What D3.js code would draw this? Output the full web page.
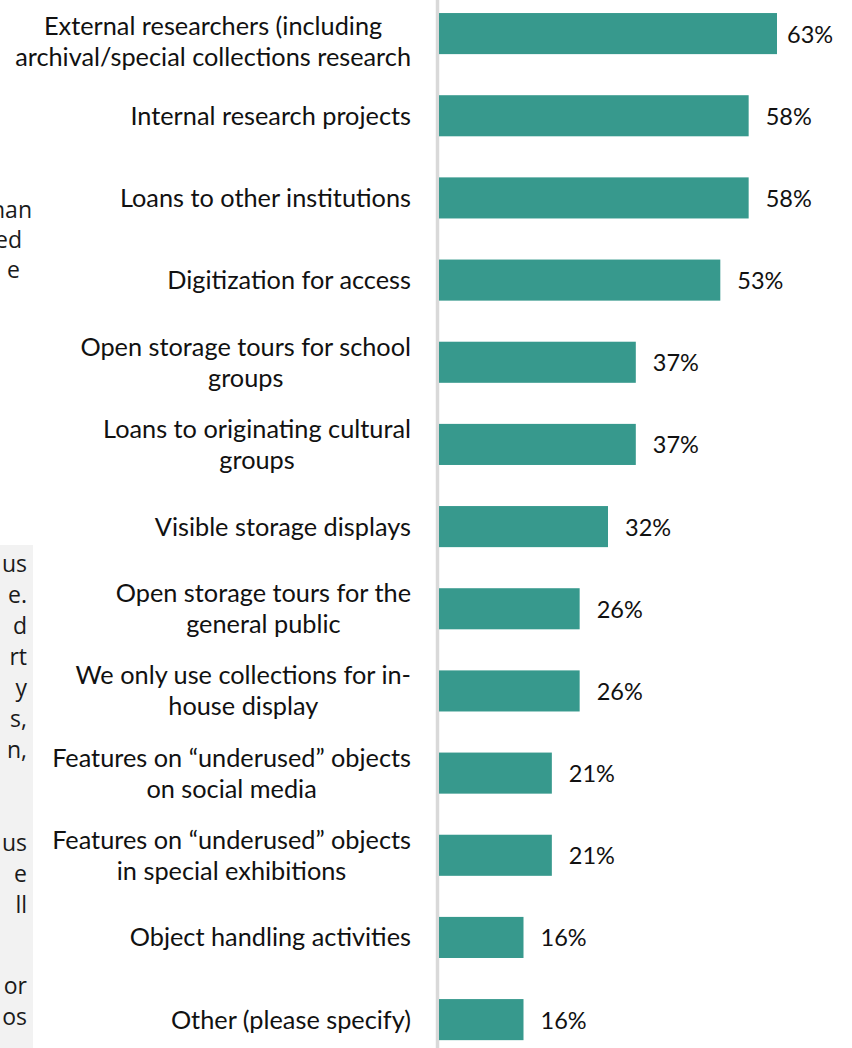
<!DOCTYPE html>
<html>
<head>
<meta charset="utf-8">
<script src="https://cdn.jsdelivr.net/npm/d3@7"></script>
<style>
  body { margin: 0; background: #fff; }
  svg { display: block; }
</style>
</head>
<body>
<svg id="chart"></svg>
<script>
  const width = 852,
        height = 1048;

  // categories (line breaks as in the picture)
  const categories = [
    ["External researchers (including", "archival/special collections research"],
    ["Internal research projects"],
    ["Loans to other institutions"],
    ["Digitization for access"],
    ["Open storage tours for school", "groups"],
    ["Loans to originating cultural", "groups"],
    ["Visible storage displays"],
    ["Open storage tours for the", "general public"],
    ["We only use collections for in-", "house display"],
    ["Features on \u201cunderused\u201d objects", "on social media"],
    ["Features on \u201cunderused\u201d objects", "in special exhibitions"],
    ["Object handling activities"],
    ["Other (please specify)"]
  ];

  // share of respondents, %
  const values = [63.2, 57.9, 57.9, 52.6, 36.8, 36.8, 31.6, 26.3, 26.3, 21.1, 21.1, 15.8, 15.8];

  // clipped text from the neighbouring page column
  const sideText = ["han", "ed", "e"];
  const boxParagraphs = [
    ["us", "e.", "d", "rt", "y", "s,", "n,", "", ""],
    ["us", "e", "ll", ""],
    ["or", "os"]
  ];

  const keys = categories.map((d, i) => i);

  let svg = d3.select("#chart")
              .attr("width", width)
              .attr("height", height);

  svg.append("rect")
     .attr("width", width)
     .attr("height", height)
     .attr("fill", "#fff");

  // grey side box of the next column
  svg.append("rect")
     .attr("x", 0)
     .attr("y", 545)
     .attr("width", 33)
     .attr("height", height - 545)
     .attr("fill", "#f2f2f2");

  svg.append("g")
     .selectAll("text")
     .data(sideText)
     .join("text")
     .attr("x", (d, i) => [32, 22, 20][i])
     .attr("y", (d, i) => 218 + i * 30)
     .attr("text-anchor", "end")
     .attr("font-family", "Open Sans")
     .attr("font-size", 23)
     .attr("fill", "#1a1a1a")
     .text(d => d);

  // lines of the box, paragraphs after the first start 19px lower
  let boxLines = [];
  let by = 572;
  boxParagraphs.forEach((p, k) => {
    if (k > 1) by += 19;
    p.forEach(s => { boxLines.push({s: s, y: by}); by += 31; });
  });

  svg.append("g")
     .selectAll("text")
     .data(boxLines)
     .join("text")
     .attr("x", 27)
     .attr("y", d => d.y)
     .attr("text-anchor", "end")
     .attr("font-family", "Open Sans")
     .attr("font-size", 23)
     .attr("fill", "#1a1a1a")
     .text(d => d.s);

  let x = d3.scaleLinear()
            .domain([0, 63.2])
            .range([439, 777]);

  let y = d3.scaleBand()
            .domain(keys)
            .range([-7.5, 1060.7])
            .paddingInner(0.5)
            .paddingOuter(0.25);

  // vertical axis line, no ticks
  svg.append("g")
     .attr("transform", "translate(437,0)")
     .call(d3.axisLeft(y).tickSize(0).tickFormat(""))
     .call(g => g.select(".domain")
                 .attr("stroke", "#d9d9d9")
                 .attr("stroke-width", 3.5));

  // Bars
  svg.append("g")
     .selectAll("rect")
     .data(values)
     .join("rect")
     .attr("x", x(0))
     .attr("y", (d, i) => y(i))
     .attr("width", d => x(d) - x(0))
     .attr("height", y.bandwidth())
     .attr("fill", "#37998d");

  // Value labels
  svg.append("g")
     .selectAll("text")
     .data(values)
     .join("text")
     .attr("x", d => Math.min(x(d) + 17, 787))
     .attr("y", (d, i) => y(i) + y.bandwidth() / 2 + 9)
     .attr("font-family", "Lato")
     .attr("font-size", 23.5)
     .attr("fill", "#111")
     .text(d => d3.format(".0f")(d) + "%");

  // Category labels: centred block, right edge at the axis
  const lineH = 31,
        labelRight = 411;

  let labels = svg.append("g")
                  .attr("font-family", "Lato")
                  .attr("font-size", 25.3)
                  .attr("fill", "#111");

  categories.forEach((lines, i) => {
    let t = labels.append("text").attr("text-anchor", "middle");
    let cy = y(i) + y.bandwidth() / 2 + 9;
    let first = Math.max(cy - (lines.length - 1) / 2 * lineH, 35);
    lines.forEach((s, j) => {
      t.append("tspan").attr("y", first + j * lineH).text(s);
    });
    let w = d3.max(t.selectAll("tspan").nodes(), n => n.getComputedTextLength());
    t.selectAll("tspan").attr("x", labelRight - w / 2);
  });
</script>
</body>
</html>
